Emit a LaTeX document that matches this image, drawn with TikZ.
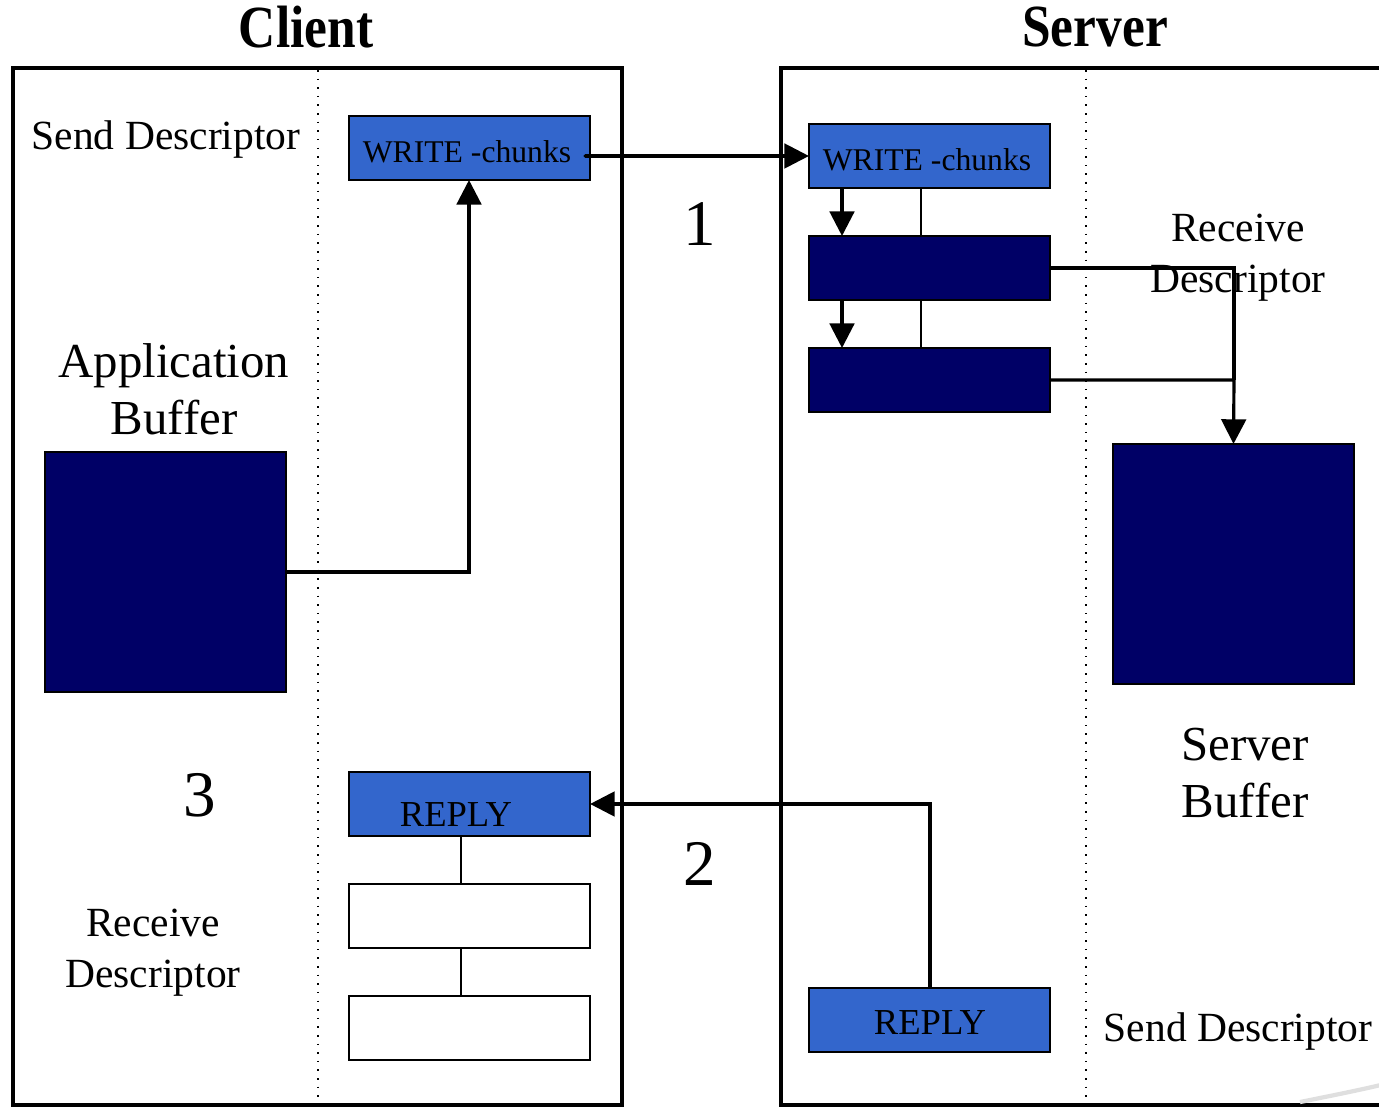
\documentclass[tikz,border=0pt]{standalone}
\usepackage{fontspec}
\setmainfont{Liberation Serif}
\newfontfamily\titlefont[FakeStretch=0.86]{Liberation Serif}
\usetikzlibrary{arrows.meta}
\definecolor{chunkblue}{HTML}{3366CC}
\definecolor{navy}{HTML}{000066}
\tikzset{
  px/.style={x=0.01cm,y=-0.01cm},
  frame/.style={line width=1.35pt},
  divider/.style={dotted,line width=0.45pt},
  boxbase/.style={draw=black,line width=0.5pt,minimum width=2.41cm,minimum height=0.64cm,inner sep=0pt,outer sep=0pt},
  bluebox/.style={boxbase,fill=chunkblue},
  navybox/.style={boxbase,fill=navy},
  whitebox/.style={boxbase,fill=white},
  bigbox/.style={draw=black,line width=0.5pt,fill=navy,minimum width=2.41cm,minimum height=2.40cm,inner sep=0pt,outer sep=0pt},
  flow/.style={line width=0.9pt,-{Triangle[length=7pt,width=7pt]}},
  flowline/.style={line width=0.9pt},
  thin/.style={line width=0.45pt},
  lbl/.style={font=\fontsize{11.8pt}{14.5pt}\selectfont,align=center,inner sep=0pt},
  biglbl/.style={font=\fontsize{13.9pt}{16.3pt}\selectfont,align=center,inner sep=0pt},
  boxtxt/.style={font=\fontsize{9pt}{10pt}\selectfont,inner sep=0pt},
  replytxt/.style={font=\fontsize{10.4pt}{12pt}\selectfont,inner sep=0pt},
  numtxt/.style={font=\fontsize{18.5pt}{22pt}\selectfont,inner sep=0pt},
  ttl/.style={font=\titlefont\bfseries\fontsize{17pt}{20pt}\selectfont,inner sep=0pt}
}
\begin{document}
\begin{tikzpicture}[px]
\useasboundingbox (0,0) rectangle (1379,1107);
% frames
\draw[frame] (13,68) rectangle (622,1105);
\draw[frame] (1400,68) -- (781,68) -- (781,1105) -- (1400,1105);
\draw[divider] (318,70) -- (318,1104);
\draw[divider] (1086,70) -- (1086,1104);
% titles
\node[ttl] (tclient) at (306,27) {Client};
\node[ttl] (tserver) at (1095,27) {Server};
% client side
\node[lbl] (csend) at (166,140) {Send Descriptor};
\node[bluebox] (cw) at (469.5,148) {};
\node[boxtxt] at (467,152) {WRITE -chunks};
\node[biglbl] (appl) at (174,389) {Application\\Buffer};
\node[bigbox] (appbuf) at (165.5,572) {};
\node[numtxt] (n3) at (200,795) {3};
\node[bluebox] (crep) at (469.5,804) {};
\node[replytxt] at (456,815) {REPLY};
\node[whitebox] (cr1) at (469.5,916) {};
\node[whitebox] (cr2) at (469.5,1028) {};
\node[lbl] (crecv) at (153,953) {Receive\\Descriptor};
\draw[thin] (461,836) -- (461,884);
\draw[thin] (461,948) -- (461,996);
% middle numbers
\node[numtxt] (n1) at (700,224) {1};
\node[numtxt] (n2) at (700,864) {2};
% server side
\node[bluebox] (sw) at (929.5,156) {};
\node[boxtxt] at (927,160) {WRITE -chunks};
\node[navybox] (s1) at (929.5,268) {};
\node[navybox] (s2) at (929.5,380) {};
\draw[thin] (921,188) -- (921,236);
\draw[thin] (921,300) -- (921,348);
\draw[flow] (842,188) -- (842,236);
\draw[flow] (842,300) -- (842,348);
\node[lbl] (srecv) at (1238,258) {Receive\\Descriptor};
\node[bigbox] (sbuf) at (1233.5,564) {};
\node[biglbl] (sbufl) at (1245,773) {Server\\Buffer};
\node[bluebox] (srep) at (929.5,1020) {};
\node[replytxt] at (930,1023) {REPLY};
\node[lbl] (ssend) at (1238,1032) {Send Descriptor};
% connectors
\coordinate (cwout) at (585,156);
\fill (cwout) circle (1.6);
\draw[flow] (cwout) -- (sw.west);
\draw[flow] (appbuf.east) -- (469,572) -- (cw.south -| 469,180);
\draw[flowline] (s1.east) -- (1234,268) -- (1234,380);
\draw[flow] (s2.east) -- (1234,380) -- (sbuf.north);
\draw[flow] (srep.north -| 930,988) -- (930,804) -- (crep.east);
% faint decoration
\draw[gray!25,line width=1.2pt] (1300,1102) .. controls (1330,1096) and (1360,1090) .. (1385,1084);
\end{tikzpicture}
\end{document}
